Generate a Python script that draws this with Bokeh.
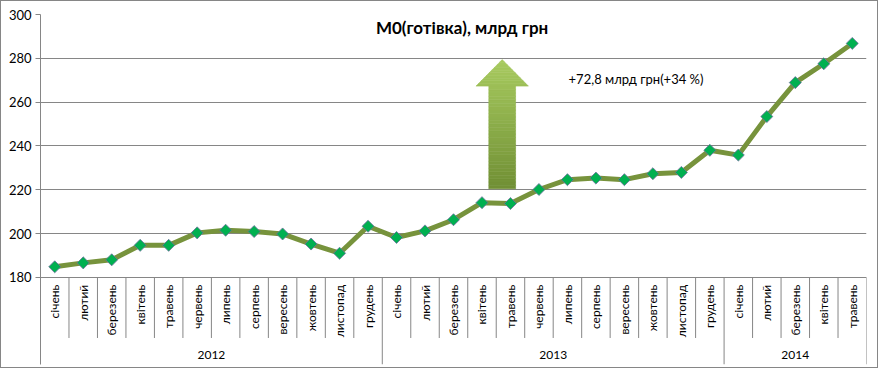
import math
from bokeh.plotting import figure
from bokeh.models import Range1d, FixedTicker, ColumnDataSource
from bokeh.core.properties import value
from bokeh.embed import file_html
from bokeh.resources import INLINE

# ---- data ----
months = ["січень", "лютий", "березень", "квітень", "травень", "червень",
          "липень", "серпень", "вересень", "жовтень", "листопад", "грудень"]
year_labels = ["2012", "2013", "2014"]
months_per_year = [12, 12, 5]
m0_values = [184.8, 186.6, 188.0, 194.6, 194.6, 200.3, 201.5, 200.9, 199.8, 195.2, 191.0, 203.3,
             198.2, 201.2, 206.3, 214.1, 213.7, 220.1, 224.6, 225.3, 224.6, 227.3, 227.9, 238.0,
             235.8, 253.4, 268.9, 277.5, 286.8]
y_ticks = [180, 200, 220, 240, 260, 280, 300]
title_text = "M0(готівка), млрд грн"
note_text = "+72,8 млрд грн(+34 %)"

FONT = "Lato"
GRID = "#868686"

cat_labels = []
for n in months_per_year:
    cat_labels += months[:n]
n_cat = len(cat_labels)
xs = [i + 0.5 for i in range(n_cat)]

p = figure(width=878, height=368, output_backend="svg", toolbar_location=None,
           x_range=Range1d(0, n_cat), y_range=Range1d(140.2, 300),
           min_border_left=39, min_border_right=13, min_border_top=13, min_border_bottom=5)
p.styles = {"border": "1px solid #868686"}
p.outline_line_color = None
p.xaxis.visible = False
p.xgrid.visible = False
p.ygrid.ticker = FixedTicker(ticks=y_ticks)
p.ygrid.grid_line_color = GRID
p.ygrid.grid_line_width = 1
yax = p.yaxis[0]
yax.ticker = FixedTicker(ticks=y_ticks)
yax.axis_line_color = GRID
yax.major_tick_line_color = GRID
yax.major_tick_out = 5
yax.major_tick_in = 0
yax.minor_tick_line_color = None
yax.major_label_text_font = FONT
yax.major_label_text_font_size = "13px"
yax.major_label_text_color = "black"
yax.major_label_standoff = 4

# category separators
ymin = y_ticks[0]
month_sep_bottom = 152.3
bounds = [0]
for n in months_per_year:
    bounds.append(bounds[-1] + n)
year_bounds = set(bounds)
sx, sy0, sy1 = [], [], []
for b in range(1, n_cat + 1):
    sx.append(b)
    sy0.append(ymin)
    sy1.append(140.2 if b in year_bounds else month_sep_bottom)
p.segment(x0=sx, y0=sy0, x1=sx, y1=sy1, line_color=GRID, line_width=1)

# month labels
p.text(x=xs, y=[176.6] * n_cat, text=cat_labels, angle=math.pi / 2,
       text_align="right", text_baseline="middle", text_font=value(FONT),
       text_font_size="12px", text_color="black")
# year labels
yc = [(bounds[i] + bounds[i + 1]) / 2 for i in range(len(year_labels))]
p.text(x=yc, y=[144.4] * len(yc), text=year_labels, text_align="center",
       text_baseline="middle", text_font=value(FONT), text_font_size="12px",
       text_color="black")

# gradient arrow (decoration)
xc, hw_head, hw_shaft = 16.21, 0.92, 0.47
y_bot, y_base, y_tip = 220.4, 267.3, 279.4
dark = (0x70, 0x8F, 0x34)
light = (0xA8, 0xCB, 0x60)


def col(t):
    c = [int(round(d + (l - d) * t)) for d, l in zip(dark, light)]
    return "#%02x%02x%02x" % tuple(c)


n_s = 30
qb, qt, qc = [], [], []
for k in range(n_s):
    a = y_bot + (y_base - y_bot) * k / n_s
    b = y_bot + (y_base - y_bot) * (k + 1) / n_s
    qb.append(a)
    qt.append(b)
    qc.append(col(((a + b) / 2 - y_bot) / (y_tip - y_bot)))
p.quad(left=xc - hw_shaft, right=xc + hw_shaft, bottom=qb, top=qt,
       fill_color=qc, line_color=qc, line_width=0.6)
n_h = 10
px, py, pc = [], [], []
for k in range(n_h):
    a = y_base + (y_tip - y_base) * k / n_h
    b = y_base + (y_tip - y_base) * (k + 1) / n_h
    wa = hw_head * (y_tip - a) / (y_tip - y_base)
    wb = hw_head * (y_tip - b) / (y_tip - y_base)
    px.append([xc - wa, xc + wa, xc + wb, xc - wb])
    py.append([a, a, b, b])
    pc.append(col(((a + b) / 2 - y_bot) / (y_tip - y_bot)))
p.patches(xs=px, ys=py, fill_color=pc, line_color=pc, line_width=0.6)

# series
src = ColumnDataSource(dict(x=xs, y=m0_values))
p.line("x", "y", source=src, line_color="#77933C", line_width=5, line_join="round")
p.scatter("x", "y", source=src, marker="square", angle=math.pi / 4, size=8.5,
          fill_color="#00B050", line_color="#6E6E9E", line_width=0.8)

# texts
p.text(x=[14.8], y=[294.2], text=[title_text], text_align="center", text_baseline="middle",
       text_font=value(FONT), text_font_size="17px", text_font_style="bold", text_color="black")
p.text(x=[18.54], y=[270.5], text=[note_text], text_align="left", text_baseline="middle",
       text_font=value(FONT), text_font_size="13px", text_color="black")

open("out.html", "w").write(file_html(p, INLINE))
